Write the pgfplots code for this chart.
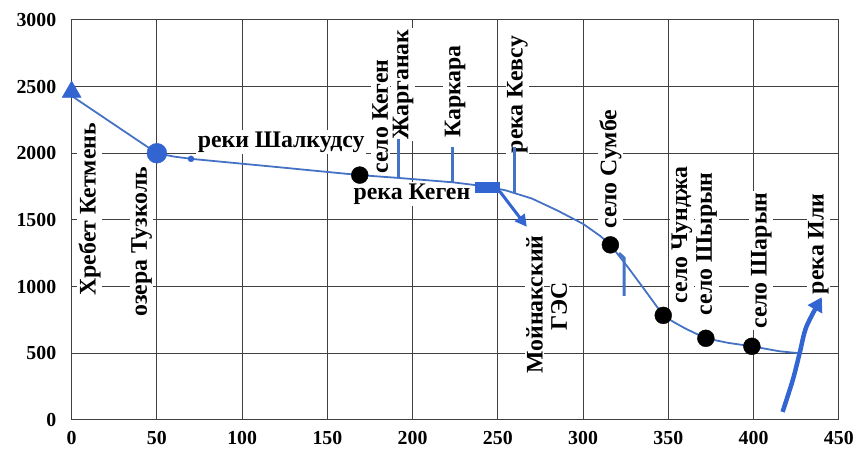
\documentclass[border=0pt]{standalone}
\usepackage{fontspec}
\setmainfont{Liberation Serif}
\usepackage{pgfplots}
\pgfplotsset{compat=1.18}
\usetikzlibrary{arrows.meta}
\definecolor{rb}{RGB}{68,114,196}
\definecolor{mb}{RGB}{50,100,210}
\newcommand{\lab}{\fontsize{24}{24}\selectfont\bfseries}
\begin{document}
\begin{tikzpicture}
\begin{axis}[
 scale only axis, width=771bp, height=402bp,
 xmin=0,xmax=450,ymin=0,ymax=3000,
 xtick={0,50,...,450}, ytick={0,500,...,3000},
 grid=major, major grid style={black!75,line width=1.1bp},
 axis line style={black!75,line width=1.1bp},
 major tick length=0pt,
 ticklabel style={font=\fontsize{20}{20}\selectfont\bfseries},
 xticklabel style={yshift=-8bp},
 yticklabel style={xshift=-12bp},
 /pgf/number format/assume math mode=true,
 /pgf/number format/set thousands separator={},
 clip=false,
]
% labels
\tikzset{lb/.style={fill=white, inner sep=1.5bp, font=\lab}}
\node[lb,rotate=90] at (axis cs:10.5,1580) {Хребет Кетмень};
\node[lb,rotate=90] at (axis cs:41,1336) {озера Тузколь};
\node[lb,anchor=west] at (axis cs:73,2082) {реки Шалкудсу};
\node[lb,rotate=90] at (axis cs:181,2276) {село Кеген};
\node[lb,rotate=90] at (axis cs:194.5,2515) {Жарганак};
\node[lb,rotate=90] at (axis cs:225,2463) {Каркара};
\node[lb,rotate=90] at (axis cs:261.5,2440) {река Кевсу};
\node[lb] at (axis cs:199.6,1694) {река Кеген};
\node[lb,rotate=90] at (axis cs:271.5,866) {Мойнакский};
\node[lb,rotate=90] at (axis cs:286,851) {ГЭС};
\node[lb,rotate=90] at (axis cs:316,1880) {село Сумбе};
\node[lb,rotate=90] at (axis cs:358,1388) {село Чунджа};
\node[lb,rotate=90] at (axis cs:372.5,1321) {село Шырын};
\node[lb,rotate=90] at (axis cs:404.5,1194) {село Шарын};
\node[lb,rotate=90] at (axis cs:438,1321) {река Или};
% tributaries
\addplot[rb, line width=3bp] coordinates {(191.5,2104) (191.5,1818)};
\addplot[rb, line width=3bp] coordinates {(223.6,2045) (223.6,1780)};
\addplot[rb, line width=3bp] coordinates {(260,2045) (260,1700)};
\addplot[rb, line width=3bp] coordinates {(324,930) (324,1215) (321,1250)};
\addplot[mb, line width=3bp, -{Triangle[length=12bp,width=12bp]}] coordinates {(251,1716) (267,1448)};
% main river
\addplot[rb, line width=1.8bp, line join=round] coordinates {
 (0,2430) (50,2000) (60,1975) (70,1958) (120,1897) (169,1836) (191.5,1815)
 (223.6,1782) (245,1748) (255,1720) (270,1660) (285,1570) (300,1470) (310,1380)
 (316,1313) (326,1150) (337,960) (347,784) (353,735) (360,685) (372,612)
 (385,578) (399,552) (415,515) (427,500)};
% Ili arrow
\addplot[mb, line width=4.5bp, smooth, -{Triangle[length=14bp,width=16bp]}] coordinates {
 (417,60) (423,300) (427,500) (431,700) (440,920)};
% markers
\addplot[only marks, mark=triangle*, mb, mark size=11bp] coordinates {(0,2460)};
\addplot[only marks, mark=*, mb, mark size=10bp] coordinates {(50,2000)};
\addplot[only marks, mark=*, mb, mark size=3bp] coordinates {(70,1958)};
\addplot[only marks, mark=square*, mb, mark size=5bp, mark options={xscale=2.4}] coordinates {(244,1746)};
\addplot[only marks, mark=*, black, mark size=8.5bp] coordinates {(169,1836) (316,1313) (347,784) (372,612) (399,552)};
\end{axis}
\path[use as bounding box] (-72bp,-35bp) rectangle (785bp,422bp);
\end{tikzpicture}
\end{document}
